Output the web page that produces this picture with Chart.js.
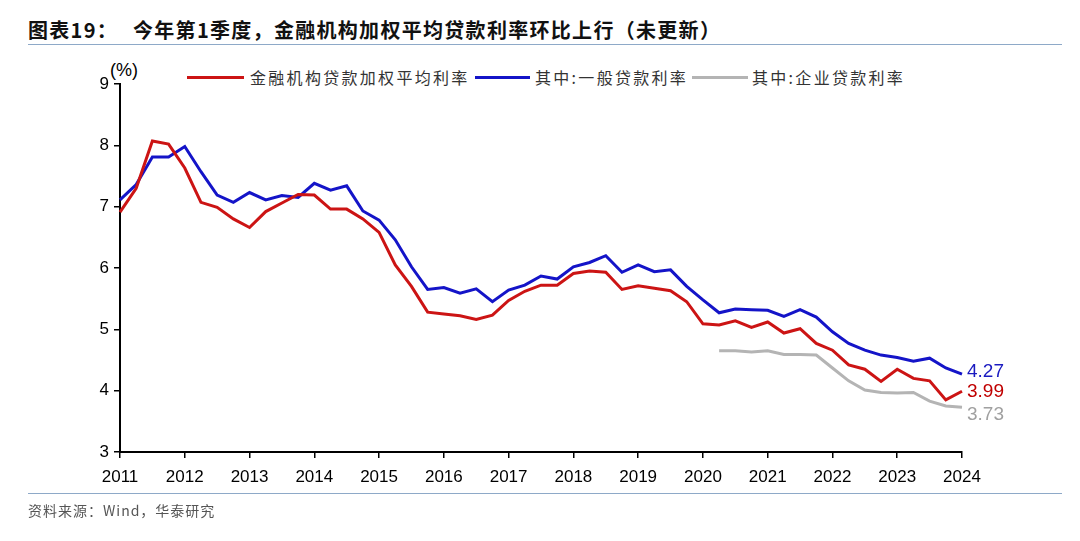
<!DOCTYPE html>
<html>
<head>
<meta charset="utf-8">
<script src="https://cdn.jsdelivr.net/npm/chart.js@4.4.1/dist/chart.umd.min.js"></script>
<style>
    body { margin: 0; background: #fff; }
    #wrap { position: relative; width: 1080px; height: 541px; overflow: hidden; font-family: "Noto Sans CJK SC", sans-serif; }
    #chart { position: absolute; left: 0; top: 0; }
    .title { position: absolute; top: 17px; font-size: 20px; font-weight: bold; color: #111; letter-spacing: 1.3px; line-height: 26px; white-space: nowrap; }
    .rule { position: absolute; left: 28px; width: 1034px; height: 0; border-top: 1.5px solid #8ea9c8; }
    .unit { position: absolute; left: 110px; top: 60px; font: 18px Arial, "Liberation Sans", sans-serif; color: #000; }
    .leg-line { position: absolute; top: 76px; height: 3px; }
    .leg-text { position: absolute; top: 66px; font-size: 16px; letter-spacing: 2.3px; color: #333; line-height: 22px; white-space: nowrap; }
    .source { position: absolute; left: 28px; top: 500px; font-size: 14px; color: #555; letter-spacing: 1px; white-space: nowrap; }
</style>
</head>
<body>
<div id="wrap">
    <div class="title" style="left:28px;">图表19：</div>
    <div class="title" style="left:133px;">今年第1季度，金融机构加权平均贷款利率环比上行（未更新）</div>
    <div class="rule" style="top:44px;"></div>

    <div class="unit">(%)</div>
    <div class="leg-line" style="left:187px; width:57px; background:#cc1414;"></div>
    <div class="leg-text" style="left:250px;">金融机构贷款加权平均利率</div>
    <div class="leg-line" style="left:475px; width:55px; background:#1414c8;"></div>
    <div class="leg-text" style="left:535px;">其中:一般贷款利率</div>
    <div class="leg-line" style="left:692px; width:56px; background:#b4b4b4;"></div>
    <div class="leg-text" style="left:752px;">其中:企业贷款利率</div>

    <canvas id="chart" width="1080" height="541"></canvas>

    <div class="rule" style="top:493px;"></div>
    <div class="source">资料来源：Wind，华泰研究</div>
</div>

<script>
// years shown on the x axis, data is quarterly from 2011Q1 to 2024Q1
const years = ["2011", "2012", "2013", "2014", "2015", "2016", "2017", "2018", "2019", "2020", "2021", "2022", "2023", "2024"];
const quarters = ["Q1", "Q2", "Q3", "Q4"];

// 金融机构贷款加权平均利率
const weightedRate = [
    6.91, 7.30, 8.07, 8.02,
    7.63, 7.07, 6.99, 6.80,
    6.66, 6.92, 7.06, 7.20,
    7.19, 6.96, 6.96, 6.80,
    6.58, 6.05, 5.70, 5.28,
    5.25, 5.22, 5.16, 5.23,
    5.47, 5.62, 5.72, 5.72,
    5.91, 5.95, 5.93, 5.65,
    5.71, 5.67, 5.63, 5.45,
    5.09, 5.07, 5.14, 5.03,
    5.12, 4.94, 5.01, 4.77,
    4.66, 4.42, 4.35, 4.15,
    4.35, 4.20, 4.16, 3.85,
    3.99
];

// 其中:一般贷款利率
const generalRate = [
    7.11, 7.36, 7.81, 7.81,
    7.98, 7.57, 7.19, 7.07,
    7.23, 7.11, 7.18, 7.15,
    7.38, 7.27, 7.34, 6.93,
    6.78, 6.46, 6.02, 5.65,
    5.68, 5.59, 5.66, 5.45,
    5.64, 5.72, 5.87, 5.82,
    6.02, 6.09, 6.20, 5.93,
    6.05, 5.94, 5.97, 5.70,
    5.48, 5.27, 5.33, 5.32,
    5.31, 5.21, 5.32, 5.20,
    4.96, 4.77, 4.66, 4.58,
    4.54, 4.48, 4.53, 4.37,
    4.27
];

// 其中:企业贷款利率 (starts 2020Q2)
const corporateRate = [
    null, null, null, null,
    null, null, null, null,
    null, null, null, null,
    null, null, null, null,
    null, null, null, null,
    null, null, null, null,
    null, null, null, null,
    null, null, null, null,
    null, null, null, null,
    null, 4.65, 4.65, 4.63,
    4.65, 4.59, 4.59, 4.58,
    4.37, 4.16, 4.01, 3.97,
    3.96, 3.97, 3.83, 3.75,
    3.73
];

let categories = [];
years.forEach(year => {
    quarters.forEach(q => categories.push(year + q));
});
categories = categories.slice(0, weightedRate.length);

const labelColors = ["#c00000", "#1a1ac0", "#a0a0a0"];
const labelOffsets = [0, -2, 8];

// value at the end of each line
const endLabels = {
    id: "endLabels",
    afterDatasetsDraw(chart) {
        let ctx = chart.ctx;
        ctx.save();
        ctx.font = "19px Arial, 'Liberation Sans', sans-serif";
        ctx.textBaseline = "middle";
        ctx.textAlign = "left";
        chart.data.datasets.forEach((ds, i) => {
            let meta = chart.getDatasetMeta(i);
            let last = ds.data.length - 1;
            let pt = meta.data[last];
            ctx.fillStyle = labelColors[i];
            ctx.fillText(ds.data[last].toFixed(2), pt.x + 5, pt.y + labelOffsets[i]);
        });
        ctx.restore();
    }
};

function createChart() {
    let ctx = document.getElementById("chart").getContext("2d");
    let tickFont = { family: "Arial, 'Liberation Sans', sans-serif", size: 17 };
    new Chart(ctx, {
        type: "line",
        data: {
            labels: categories,
            datasets: [
                { label: "金融机构贷款加权平均利率", data: weightedRate, borderColor: "#cc1414", borderWidth: 3 },
                { label: "其中:一般贷款利率", data: generalRate, borderColor: "#1414c8", borderWidth: 3 },
                { label: "其中:企业贷款利率", data: corporateRate, borderColor: "#b4b4b4", borderWidth: 3 }
            ]
        },
        options: {
            responsive: false,
            animation: false,
            elements: { point: { radius: 0 }, line: { tension: 0 } },
            layout: { padding: { left: 0, top: 84, right: 118, bottom: 0 } },
            plugins: { legend: { display: false }, tooltip: { enabled: false } },
            scales: {
                x: {
                    afterFit: function (scale) { scale.height = 89; },
                    border: { color: "#000", width: 2 },
                    grid: { drawOnChartArea: false, tickLength: 6, color: "#000", lineWidth: 1.5 },
                    ticks: {
                        autoSkip: false,
                        maxRotation: 0,
                        color: "#000",
                        font: tickFont,
                        padding: 9,
                        callback: function (value, index) {
                            if (index % 4 !== 0) return null;
                            return this.getLabelForValue(value).slice(0, 4);
                        }
                    }
                },
                y: {
                    min: 3,
                    max: 9,
                    afterFit: function (scale) { scale.width = 120; },
                    border: { color: "#000", width: 2 },
                    grid: { drawOnChartArea: false, tickLength: 6, color: "#000", lineWidth: 1.5 },
                    ticks: { stepSize: 1, color: "#000", font: tickFont, padding: 5 }
                }
            }
        },
        plugins: [endLabels]
    });
}

createChart();
</script>
</body>
</html>
